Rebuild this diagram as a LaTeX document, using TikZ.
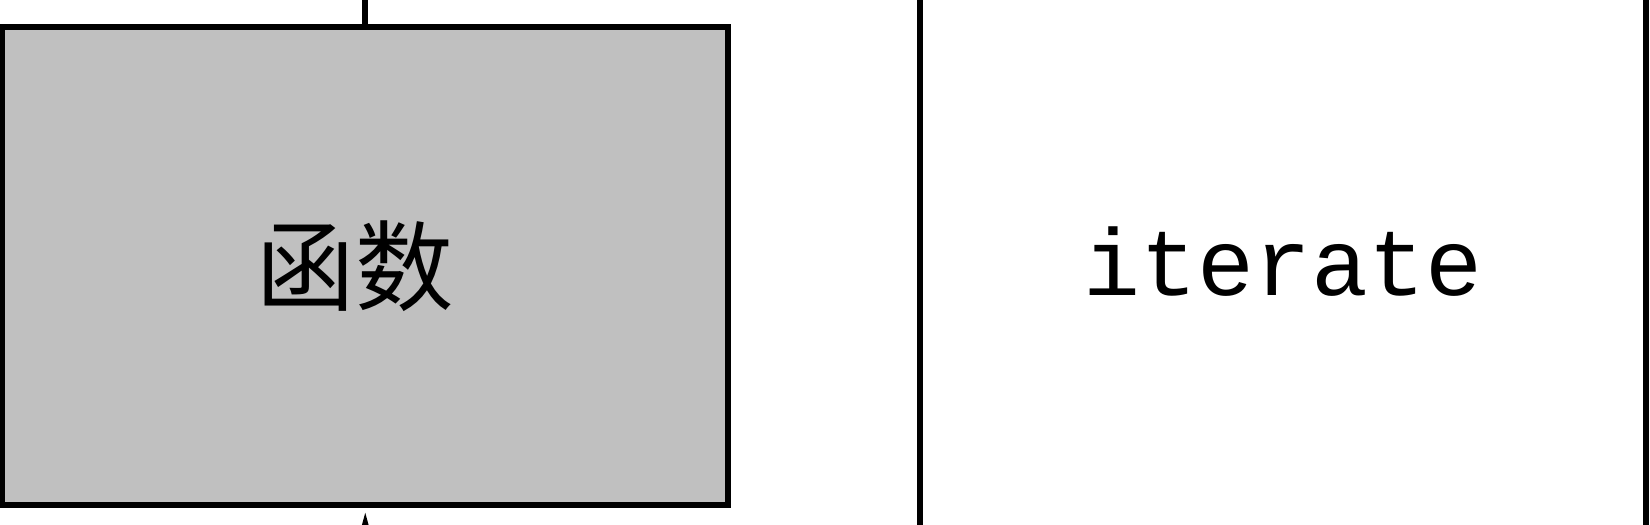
\documentclass[tikz,border=0pt]{standalone}
\usepackage{fontspec}
\setmonofont{Liberation Mono}
\newfontfamily\cjk{Noto Sans CJK SC}
\usetikzlibrary{arrows.meta, positioning}
\definecolor{clrFunc}{HTML}{C0C0C0}
\tikzset{
  block/.style = {rectangle, draw, line width=0.12cm, minimum width=14.51cm,
                  minimum height=9.56cm, align=center, inner sep=0pt},
  link/.style = {line width=0.12cm},
  arrow/.style = {-{Latex[length=0.6cm, width=0.34cm]}, line width=0.12cm},
}

\begin{document}
\begin{tikzpicture}
  \useasboundingbox (0,0) rectangle (33,-10.48);
  \clip (0,0) rectangle (33,-10.48);

  % --- Blocks ---
  \node[block, fill=clrFunc, font=\cjk\fontsize{56}{62}\selectfont]
    at (7.305, -5.32) (func) {\hspace*{-0.4cm}函数};
  \node[block, minimum width=14.52cm, minimum height=12cm,
        font=\ttfamily\fontsize{54}{60}\selectfont]
    at (25.66, -5.24) (iter) {iterate};

  % --- Links ---
  \coordinate[above=1cm of func.north] (inTop);
  \coordinate[below=1.2cm of func.south] (inBot);
  \draw[link] (inTop) -- (func.north);
  \draw[arrow] (inBot) -- (func.south);
\end{tikzpicture}
\end{document}
